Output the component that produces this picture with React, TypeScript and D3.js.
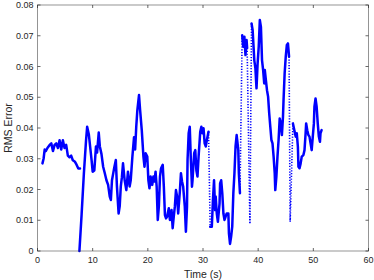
import React from 'react';
import * as d3 from 'd3';

const width = 374,
    height = 280,
    margin = { top: 5, right: 5.5, bottom: 29, left: 37.5 },
    color = "#0000ff";

// first trace (before the restart near t = 7.7 s)
const timeA = [0.9, 1.1, 1.3, 1.5, 1.8, 2.0, 2.2, 2.5, 2.8, 3.1, 3.4, 3.7, 4.0, 4.3, 4.6, 4.9, 5.2, 5.5, 5.8, 6.1, 6.4, 6.8, 7.1, 7.4, 7.7];
const rmsA = [0.0285, 0.0300, 0.0330, 0.0325, 0.0335, 0.0340, 0.0345, 0.0350, 0.0325, 0.0345, 0.0350, 0.0335, 0.0360, 0.0330, 0.0360, 0.0335, 0.0345, 0.0310, 0.0305, 0.0310, 0.0295, 0.0290, 0.0280, 0.0268, 0.0268];

// second trace
const timeB = [7.6, 8.0, 8.4, 8.8, 9.0, 9.3, 9.6, 9.8, 10.0, 10.3, 10.6, 10.8, 11.1, 11.3, 11.6, 11.9, 12.2, 12.5, 12.8, 13.1, 13.3, 13.5, 13.7, 13.9, 14.2, 14.4, 14.7, 14.9, 15.1, 15.3, 15.5, 15.8, 16.1, 16.4, 16.7, 16.9, 17.2, 17.5, 17.7, 17.9, 18.1, 18.4, 18.6, 18.9, 19.2, 19.4, 19.6, 19.9, 20.1, 20.3, 20.5, 20.8, 21.0, 21.2, 21.4, 21.6, 21.8, 22.0, 22.2, 22.4, 22.7, 22.9, 23.1, 23.3, 23.5, 23.8, 24.0, 24.3, 24.5, 24.7, 24.9, 25.1, 25.3, 25.5, 25.8, 26.0, 26.2, 26.4, 26.7, 26.9, 27.1, 27.2, 27.4, 27.6, 27.8, 28.0, 28.1, 28.4, 28.6, 28.8, 29.0, 29.2, 29.5, 29.7, 29.9, 30.1, 30.3, 30.5, 30.7, 31.0, 31.3, 31.6, 31.8, 32.0, 32.2, 32.3, 32.5, 32.7, 33.0, 33.1, 33.3, 33.5, 33.7, 33.9, 34.1, 34.3, 34.6, 34.7, 34.9, 35.1, 35.3, 35.5, 35.7, 35.9, 36.1, 36.4, 36.5, 36.7, 37.1, 37.3, 37.5, 37.7, 37.9, 38.0, 38.5, 38.8, 39.0, 39.3, 39.5, 39.7, 39.9, 40.1, 40.3, 40.5, 40.7, 40.9, 41.1, 41.2, 41.4, 41.6, 41.8, 42.0, 42.2, 42.4, 42.6, 42.8, 43.0, 43.1, 43.3, 43.5, 43.7, 43.9, 44.1, 44.3, 44.5, 44.6, 44.8, 45.0, 45.2, 45.4, 45.6, 45.8, 46.3, 46.8, 47.0, 47.2, 47.3, 47.5, 47.7, 47.9, 48.2, 48.4, 48.6, 48.7, 48.9, 49.1, 49.3, 49.5, 49.7, 49.9, 50.1, 50.2, 50.4, 50.6, 50.8, 51.0, 51.2, 51.3, 51.5, 51.7];
const rmsB = [0.0000, 0.0120, 0.0250, 0.0360, 0.0404, 0.0380, 0.0330, 0.0296, 0.0258, 0.0262, 0.0340, 0.0320, 0.0385, 0.0340, 0.0315, 0.0274, 0.0253, 0.0230, 0.0215, 0.0177, 0.0166, 0.0230, 0.0250, 0.0270, 0.0296, 0.0210, 0.0122, 0.0145, 0.0210, 0.0240, 0.0285, 0.0230, 0.0198, 0.0258, 0.0210, 0.0230, 0.0307, 0.0370, 0.0330, 0.0404, 0.0458, 0.0507, 0.0458, 0.0393, 0.0307, 0.0274, 0.0318, 0.0307, 0.0230, 0.0204, 0.0242, 0.0215, 0.0242, 0.0226, 0.0258, 0.0210, 0.0101, 0.0145, 0.0242, 0.0269, 0.0280, 0.0210, 0.0117, 0.0106, 0.0112, 0.0139, 0.0101, 0.0133, 0.0074, 0.0112, 0.0145, 0.0198, 0.0177, 0.0122, 0.0192, 0.0253, 0.0226, 0.0210, 0.0144, 0.0063, 0.0144, 0.0296, 0.0383, 0.0404, 0.0296, 0.0209, 0.0230, 0.0318, 0.0328, 0.0262, 0.0242, 0.0307, 0.0388, 0.0404, 0.0383, 0.0399, 0.0350, 0.0340, 0.0361, 0.0388, 0.0079, 0.0079, 0.0166, 0.0230, 0.0133, 0.0177, 0.0122, 0.0095, 0.0155, 0.0220, 0.0230, 0.0187, 0.0122, 0.0101, 0.0112, 0.0122, 0.0122, 0.0057, 0.0023, 0.0047, 0.0079, 0.0188, 0.0253, 0.0340, 0.0377, 0.0328, 0.0253, 0.0188, 0.0702, 0.0664, 0.0697, 0.0637, 0.0686, 0.0660, 0.0090, 0.0740, 0.0718, 0.0620, 0.0594, 0.0529, 0.0610, 0.0664, 0.0751, 0.0729, 0.0620, 0.0588, 0.0545, 0.0589, 0.0556, 0.0523, 0.0502, 0.0448, 0.0404, 0.0361, 0.0350, 0.0307, 0.0253, 0.0198, 0.0242, 0.0307, 0.0361, 0.0431, 0.0415, 0.0377, 0.0437, 0.0491, 0.0578, 0.0632, 0.0670, 0.0675, 0.0632, 0.0095, 0.0415, 0.0372, 0.0383, 0.0339, 0.0274, 0.0269, 0.0285, 0.0307, 0.0312, 0.0328, 0.0383, 0.0415, 0.0393, 0.0377, 0.0372, 0.0350, 0.0328, 0.0372, 0.0415, 0.0469, 0.0496, 0.0469, 0.0415, 0.0372, 0.0355, 0.0383, 0.0393];

const xTicks = [0, 10, 20, 30, 40, 50, 60];
const yTicks = [0, 0.01, 0.02, 0.03, 0.04, 0.05, 0.06, 0.07, 0.08];

type Pt = [number, number];

// the big jumps were sampled sparsely, so they show up as dotted strokes
const splitRuns = (ts: number[], vs: number[], y: (v: number) => number) => {
    const solid: Pt[][] = [];
    const dotted: Pt[][] = [];
    let run: Pt[] = [[ts[0], vs[0]]];
    for (let i = 1; i < ts.length; i++) {
        const p: Pt = [ts[i], vs[i]];
        const prev: Pt = [ts[i - 1], vs[i - 1]];
        if (Math.abs(y(vs[i]) - y(vs[i - 1])) > 60) {
            if (run.length > 1) solid.push(run);
            dotted.push([prev, p]);
            run = [p];
        } else {
            run.push(p);
        }
    }
    if (run.length > 1) solid.push(run);
    return { solid, dotted };
};

const App = () => {
    const x = d3.scaleLinear().domain([0, 60]).range([margin.left, width - margin.right]);
    const y = d3.scaleLinear().domain([0, 0.08]).range([height - margin.bottom, margin.top]);

    const line = d3.line<Pt>()
        .x((d) => x(d[0]))
        .y((d) => y(d[1]));

    const a = splitRuns(timeA, rmsA, y);
    const b = splitRuns(timeB, rmsB, y);
    const solid = [...a.solid, ...b.solid];
    const dotted = [...a.dotted, ...b.dotted];

    const x0 = x(0), x1 = x(60), y0 = y(0), y1 = y(0.08);
    const axisColor = "#262626";
    const font = "'Liberation Sans', Arial, sans-serif";

    return (
        <svg width={width} height={height} style={{ position: 'absolute', left: 0, top: 0, background: '#fff' }}>
            {/* data */}
            {solid.map((r, i) => (
                <path key={'s' + i} d={line(r) || ''} fill="none" stroke={color} strokeWidth={2.5} strokeLinejoin="round" strokeLinecap="round" />
            ))}
            {dotted.map((r, i) => (
                <path key={'d' + i} d={line(r) || ''} fill="none" stroke={color} strokeWidth={1.6} strokeDasharray="1.2 1.6" />
            ))}
            {/* box */}
            <rect x={x0} y={y1} width={x1 - x0} height={y0 - y1} fill="none" stroke={axisColor} strokeOpacity={0.7} strokeWidth={0.7} />
            {/* x ticks */}
            {xTicks.map((t) => (
                <g key={'x' + t}>
                    <line x1={x(t)} x2={x(t)} y1={y0} y2={y0 - 3} stroke={axisColor} strokeWidth={0.7} />
                    <line x1={x(t)} x2={x(t)} y1={y1} y2={y1 + 3} stroke={axisColor} strokeWidth={0.7} />
                    <text x={x(t)} y={y0 + 12} textAnchor="middle" fontSize={9} fill={axisColor} fontFamily={font}>{t}</text>
                </g>
            ))}
            {/* y ticks */}
            {yTicks.map((t) => (
                <g key={'y' + t}>
                    <line x1={x0} x2={x0 + 3} y1={y(t)} y2={y(t)} stroke={axisColor} strokeWidth={0.7} />
                    <line x1={x1} x2={x1 - 3} y1={y(t)} y2={y(t)} stroke={axisColor} strokeWidth={0.7} />
                    <text x={x0 - 4} y={y(t) + 3} textAnchor="end" fontSize={9} fill={axisColor} fontFamily={font}>{t === 0 ? '0' : t.toFixed(2)}</text>
                </g>
            ))}
            {/* labels */}
            <text x={(x0 + x1) / 2} y={278} textAnchor="middle" fontSize={10.5} fill={axisColor} fontFamily={font}>Time (s)</text>
            <text transform={`translate(12,${(y0 + y1) / 2}) rotate(-90)`} textAnchor="middle" fontSize={10.5} fill={axisColor} fontFamily={font}>RMS Error</text>
        </svg>
    );
}

export default App
